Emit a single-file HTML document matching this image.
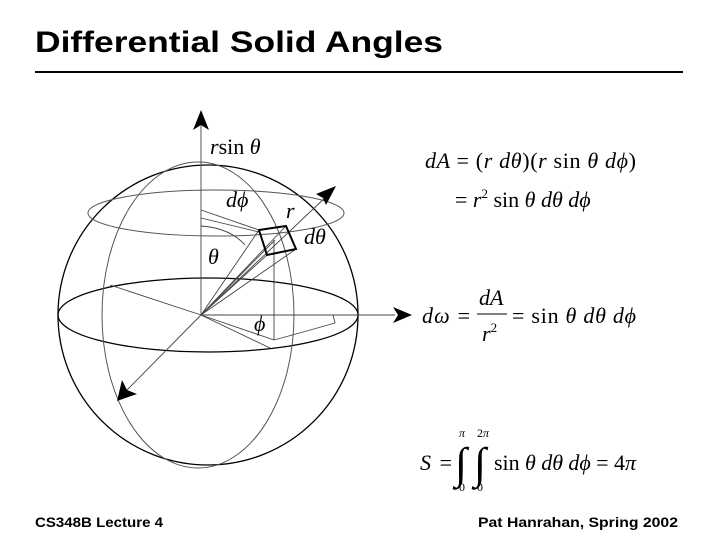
<!DOCTYPE html>
<html><head><style>
body{margin:0;background:#fff;width:720px;height:540px;overflow:hidden}
svg{display:block}
.m{font-family:"Liberation Serif",serif;font-size:22px;font-style:italic}
.u{font-style:normal}
.t{font-family:"Liberation Sans",sans-serif;font-weight:bold}
</style></head><body>
<svg width="720" height="540" viewBox="0 0 720 540">
<text x="35" y="52" class="t" font-size="30" textLength="408" lengthAdjust="spacingAndGlyphs">Differential Solid Angles</text>
<line x1="35" y1="72" x2="683" y2="72" stroke="#000" stroke-width="2"/>
<text x="35" y="527" class="t" font-size="14" textLength="128" lengthAdjust="spacingAndGlyphs">CS348B Lecture 4</text>
<text x="478" y="527" class="t" font-size="14" textLength="200" lengthAdjust="spacingAndGlyphs">Pat Hanrahan, Spring 2002</text>

<g fill="none">
<circle cx="208" cy="315" r="150" stroke="#000" stroke-width="1.3"/>
<ellipse cx="208" cy="315" rx="150" ry="37" stroke="#000" stroke-width="1.3"/>
<ellipse cx="216" cy="213" rx="128" ry="23" stroke="#555" stroke-width="1"/>
<ellipse cx="198" cy="315" rx="96" ry="153" stroke="#555" stroke-width="1"/>
<g stroke="#444" stroke-width="0.9">
<line x1="201" y1="315" x2="201" y2="125"/>
<line x1="201" y1="315" x2="395" y2="315"/>
<line x1="201" y1="315" x2="328" y2="195"/>
<line x1="201" y1="315" x2="127" y2="390"/>
<line x1="201" y1="210" x2="259" y2="230"/>
<line x1="201" y1="218" x2="259" y2="232"/>
<line x1="201" y1="315" x2="259" y2="230"/>
<line x1="201" y1="315" x2="286" y2="226"/>
<line x1="201" y1="315" x2="296" y2="249"/>
<line x1="201" y1="315" x2="267" y2="255"/>
<line x1="201" y1="315" x2="275" y2="240"/>
<line x1="274" y1="240" x2="274" y2="340"/>
<line x1="201" y1="315" x2="274" y2="340"/>
<line x1="201" y1="315" x2="270" y2="348"/>
<line x1="110" y1="285" x2="201" y2="315"/>
<path d="M274 340 Q300 333 335 323 L333 315"/>
<path d="M201 226 Q230 228 245 245"/>
</g>
<path d="M259 230 L286 226 L296 249 L267 255 Z" stroke="#000" stroke-width="2"/>
</g>
<g fill="#000">
<polygon points="201,110 193,130 201,125 209,130"/>
<polygon points="412,315 393,307 398,315 393,323"/>
<polygon points="336,186 316,194 323,198 326,205"/>
<polygon points="117,401 122,380 127,390 137,394"/>
</g>
<g class="m">
<text x="210" y="154">r<tspan class="u">sin</tspan> θ</text>
<text x="226" y="207">dϕ</text>
<text x="286" y="218">r</text>
<text x="304" y="244">dθ</text>
<text x="208" y="264">θ</text>
<text x="254" y="331">ϕ</text>

<text x="425" y="168" textLength="211" lengthAdjust="spacing">dA <tspan class="u">= (</tspan>r dθ<tspan class="u">)(</tspan>r <tspan class="u">sin</tspan> θ dϕ<tspan class="u">)</tspan></text>
<text x="455" y="207"><tspan class="u">=</tspan> r<tspan font-size="13" dy="-9" class="u">2</tspan><tspan dy="9" class="u"> sin</tspan> θ dθ dϕ</text>

<text x="422" y="323" textLength="48" lengthAdjust="spacing">dω <tspan class="u">=</tspan></text>
<text x="479" y="305">dA</text>
<line x1="477" y1="314" x2="507" y2="314" stroke="#000" stroke-width="1"/>
<text x="482" y="341">r<tspan font-size="13" dy="-9" class="u">2</tspan></text>
<text x="512" y="323" textLength="124" lengthAdjust="spacing"><tspan class="u">= sin</tspan> θ dθ dϕ</text>

<text x="420" y="470" textLength="32" lengthAdjust="spacing">S <tspan class="u">=</tspan></text>
<text x="455" y="478" class="u" font-size="44" font-style="normal">∫</text>
<text x="474" y="478" class="u" font-size="44" font-style="normal">∫</text>
<text x="459" y="437" font-size="12">π</text>
<text x="477" y="437" font-size="12"><tspan class="u">2</tspan>π</text>
<text x="459" y="491" font-size="12" class="u">0</text>
<text x="477" y="491" font-size="12" class="u">0</text>
<text x="494" y="470" textLength="142" lengthAdjust="spacing"><tspan class="u">sin</tspan> θ dθ dϕ <tspan class="u">= 4</tspan>π</text>
</g>
</svg>
</body></html>
